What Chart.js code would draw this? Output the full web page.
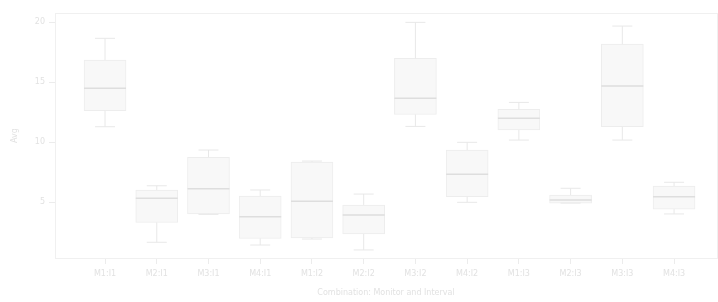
<!DOCTYPE html>
<html>
<head>
<meta charset="utf-8">
<script src="https://cdn.jsdelivr.net/npm/chart.js@4/dist/chart.umd.min.js"></script>
<style>
  html, body { margin: 0; padding: 0; background: #fff; }
  #wrap { width: 718px; height: 302px; }
</style>
</head>
<body>
<div id="wrap"><canvas id="boxChart"></canvas></div>
<script>
// values
const categories = ['M1:I1', 'M2:I1', 'M3:I1', 'M4:I1', 'M1:I2', 'M2:I2', 'M3:I2', 'M4:I2', 'M1:I3', 'M2:I3', 'M3:I3', 'M4:I3'];
const whiskerLow  = [11.3, 1.67, 4.0, 1.44, 1.94, 1.03, 11.33, 5.0, 10.19, 4.94, 10.19, 4.03];
const quart1      = [12.63, 3.33, 4.03, 2.0, 2.03, 2.36, 12.33, 5.47, 11.03, 4.94, 11.3, 4.44];
const medians     = [14.5, 5.33, 6.13, 3.8, 5.1, 3.94, 13.67, 7.33, 12.0, 5.19, 14.69, 5.47];
const quart3      = [16.86, 6.03, 8.75, 5.53, 8.36, 4.78, 17.0, 9.36, 12.75, 5.61, 18.19, 6.36];
const whiskerHigh = [18.67, 6.38, 9.36, 6.03, 8.44, 5.69, 20.0, 10.0, 13.33, 6.17, 19.69, 6.67];
const yTicks = [5, 10, 15, 20];

const textColor = '#e2e2e2';
const lineColor = '#ececec';

// whiskers, caps and medians drawn through the chart scales
const boxExtras = {
    id: 'boxExtras',
    afterDatasetsDraw(chart) {
        const ctx = chart.ctx;
        const xs = chart.scales.x, ys = chart.scales.y;
        ctx.save();
        categories.forEach((c, i) => {
            const cx = xs.getPixelForValue(i);
            const half = 21, cap = 10;
            ctx.strokeStyle = '#e8e8e8';
            ctx.lineWidth = 1;
            ctx.beginPath();
            ctx.moveTo(cx, ys.getPixelForValue(quart3[i]));
            ctx.lineTo(cx, ys.getPixelForValue(whiskerHigh[i]));
            ctx.moveTo(cx, ys.getPixelForValue(quart1[i]));
            ctx.lineTo(cx, ys.getPixelForValue(whiskerLow[i]));
            ctx.moveTo(cx - cap, ys.getPixelForValue(whiskerHigh[i]));
            ctx.lineTo(cx + cap, ys.getPixelForValue(whiskerHigh[i]));
            ctx.moveTo(cx - cap, ys.getPixelForValue(whiskerLow[i]));
            ctx.lineTo(cx + cap, ys.getPixelForValue(whiskerLow[i]));
            ctx.stroke();
            ctx.strokeStyle = '#dedede';
            ctx.lineWidth = 1.5;
            ctx.beginPath();
            ctx.moveTo(cx - half, ys.getPixelForValue(medians[i]));
            ctx.lineTo(cx + half, ys.getPixelForValue(medians[i]));
            ctx.stroke();
        });
        // frame around the plot area
        const a = chart.chartArea;
        ctx.strokeStyle = '#f0f0f0';
        ctx.lineWidth = 1;
        ctx.strokeRect(a.left + 0.5, a.top + 0.5, a.right - a.left, a.bottom - a.top);
        ctx.restore();
    }
};

new Chart(document.getElementById('boxChart'), {
    type: 'bar',
    data: {
        datasets: [{
            data: categories.map((c, i) => ({ x: i, y: [quart1[i], quart3[i]] })),
            backgroundColor: '#f8f8f8',
            borderColor: '#ededed',
            borderWidth: 1,
            borderSkipped: false,
            barThickness: 42
        }]
    },
    options: {
        responsive: true,
        maintainAspectRatio: false,
        animation: false,
        layout: { padding: { top: 13, right: 1, left: 0, bottom: 0 } },
        plugins: { legend: { display: false }, tooltip: { enabled: false } },
        scales: {
            x: {
                type: 'linear',
                offset: false,
                min: -0.967,
                max: 11.83,
                afterBuildTicks: s => { s.ticks = categories.map((c, i) => ({ value: i })); },
                afterFit: s => { s.height = 44; },
                ticks: {
                    callback: v => categories[v],
                    color: textColor,
                    font: { family: 'DejaVu Sans', size: 8 },
                    padding: 5,
                    maxRotation: 0
                },
                grid: { offset: false, drawOnChartArea: false, color: lineColor, tickLength: 6 },
                border: { color: lineColor },
                title: {
                    display: true,
                    text: 'Combination: Monitor and Interval',
                    color: textColor,
                    font: { family: 'DejaVu Sans', size: 8 },
                    padding: { top: 13 }
                }
            },
            y: {
                min: 0.36,
                max: 20.78,
                afterBuildTicks: s => { s.ticks = yTicks.map(v => ({ value: v })); },
                afterFit: s => { s.width = 55; },
                ticks: {
                    color: textColor,
                    font: { family: 'DejaVu Sans', size: 8 },
                    padding: 4
                },
                grid: { drawOnChartArea: false, color: lineColor, tickLength: 6 },
                border: { color: lineColor },
                title: {
                    display: true,
                    text: 'Avg',
                    color: textColor,
                    font: { family: 'DejaVu Sans', size: 8 },
                    padding: { top: 10, bottom: 4 }
                }
            }
        }
    },
    plugins: [boxExtras]
});
</script>
</body>
</html>
